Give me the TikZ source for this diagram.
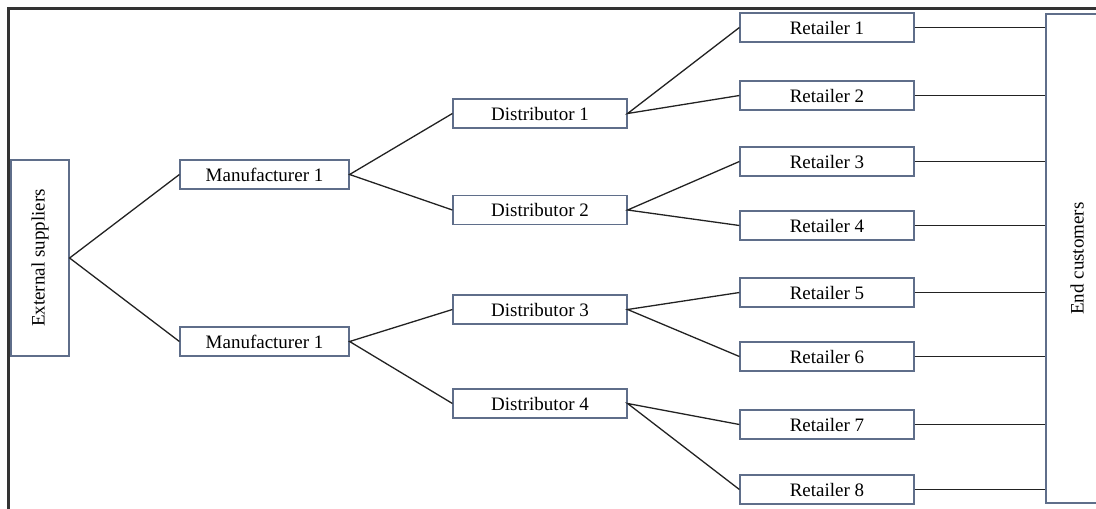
\documentclass[tikz,border=0pt]{standalone}
\usepackage{fontspec}
\setmainfont{Liberation Serif}
\begin{document}
\begin{tikzpicture}[x=1pt,y=-1pt,
  boxc/.style={draw=boxcol, line width=1.2pt, fill=white, inner sep=0pt, font=\fontsize{19}{22}\selectfont},
  mbox/.style={boxc, minimum width=169pt, minimum height=29pt},
  dbox/.style={boxc, minimum width=174pt, minimum height=29pt},
  rbox/.style={boxc, minimum width=174pt, minimum height=29pt},
  link/.style={draw=linecol, line width=1.3pt},
  frameline/.style={draw=framecol, line width=2.2pt}]
\definecolor{boxcol}{HTML}{5F6E8A}
\definecolor{linecol}{HTML}{222222}
\definecolor{framecol}{HTML}{333333}
\useasboundingbox (0,0) rectangle (1096,509);
\clip (0,0) rectangle (1096,509);
\draw[frameline] (8.5,520) -- (8.5,8.5) -- (1110,8.5);

\node[boxc, rotate=90, minimum width=196pt, minimum height=58pt] (es) at (40,258) {External suppliers};
\node[boxc, rotate=90, minimum width=489pt, minimum height=62pt] (ec) at (1077,258.5) {End customers};

\node[mbox] (m1) at (264.5,174.5) {Manufacturer 1};
\node[mbox] (m2) at (264.5,341.5) {Manufacturer 1};

\node[dbox] (d1) at (540,113.5) {Distributor 1};
\node[dbox] (d2) at (540,210) {Distributor 2};
\node[dbox] (d3) at (540,309.5) {Distributor 3};
\node[dbox] (d4) at (540,403.5) {Distributor 4};

\node[rbox] (r1) at (827,27.5) {Retailer 1};
\node[rbox] (r2) at (827,95.5) {Retailer 2};
\node[rbox] (r3) at (827,161.5) {Retailer 3};
\node[rbox] (r4) at (827,225.5) {Retailer 4};
\node[rbox] (r5) at (827,292.5) {Retailer 5};
\node[rbox] (r6) at (827,356.5) {Retailer 6};
\node[rbox] (r7) at (827,424.5) {Retailer 7};
\node[rbox] (r8) at (827,489.5) {Retailer 8};

\draw[link] (m1.west) -- (es.south) -- (m2.west);
\draw[link] (d1.west) -- (m1.east) -- (d2.west);
\draw[link] (d3.west) -- (m2.east) -- (d4.west);
\draw[link] (r1.west) -- (d1.east) -- (r2.west);
\draw[link] (r3.west) -- (d2.east) -- (r4.west);
\draw[link] (r5.west) -- (d3.east) -- (r6.west);
\draw[link] (r7.west) -- (d4.east) -- (r8.west);
\foreach \r in {r1,r2,r3,r4,r5,r6,r7,r8}
  \draw[link] (\r.east) -- (\r.east -| ec.north);
\end{tikzpicture}
\end{document}
